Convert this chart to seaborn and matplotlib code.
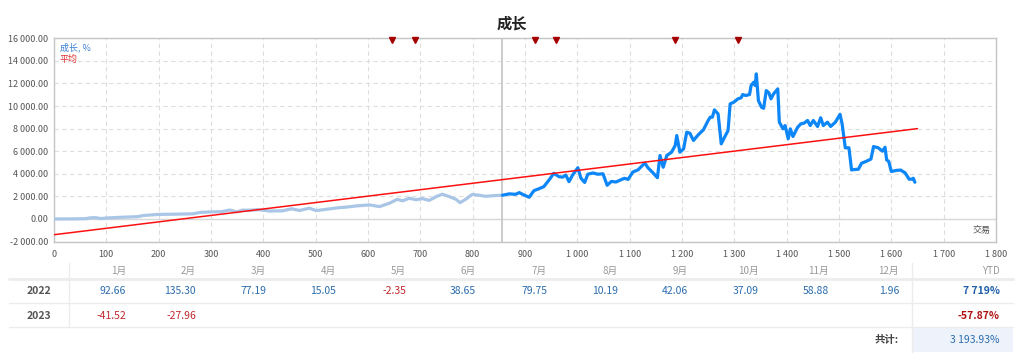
import numpy as np
import pandas as pd
import matplotlib.pyplot as plt
import seaborn as sns
from matplotlib.lines import Line2D
from matplotlib.patches import Rectangle

# 成长曲线 (交易序号, 成长 %)
trades = [0, 30, 60, 70, 80, 90, 100, 130, 160, 170, 200, 230, 265, 280, 300, 320, 336, 349, 360, 374,
          390, 412, 437, 454, 469, 488, 501, 520, 545, 560, 577, 603, 622, 641, 656, 666, 679, 692, 704, 717,
          730, 742, 755, 768, 776, 787, 799, 812, 825, 837, 857,
          870, 882, 889, 898, 908, 917, 927, 936, 946, 955, 965, 972, 978, 984, 991, 1001, 1007, 1014, 1020,
          1030, 1039, 1049, 1057, 1065, 1074, 1081, 1090, 1097, 1106, 1116, 1129, 1135, 1145, 1153, 1158, 1164,
          1171, 1180, 1187, 1190, 1196, 1203, 1209, 1215, 1222, 1231, 1241, 1250, 1254, 1258, 1262, 1269, 1275,
          1283, 1288, 1292, 1299, 1307, 1313, 1316, 1322, 1329, 1332, 1337, 1340, 1342, 1346, 1352, 1356, 1361,
          1366, 1370, 1375, 1383, 1386, 1393, 1397, 1403, 1407, 1412, 1421, 1427, 1433, 1440, 1445, 1451, 1459,
          1465, 1470, 1478, 1484, 1493, 1502, 1506, 1512, 1519, 1524, 1530, 1537, 1543, 1552, 1561, 1566, 1575,
          1583, 1588, 1591, 1595, 1600, 1610, 1618, 1622, 1626, 1634, 1639, 1642, 1645]
growth = [0, 0, 20, 100, 110, 30, 80, 150, 200, 300, 400, 420, 450, 580, 620, 640, 790, 620, 780, 770,
          820, 700, 720, 900, 750, 950, 740, 850, 1000, 1050, 1150, 1240, 1090, 1390, 1740, 1600, 1830, 1700, 1800, 1640,
          1970, 2190, 1980, 1740, 1440, 1750, 2170, 2100, 2000, 2050, 2100,
          2220, 2180, 2330, 2120, 1920, 2500, 2680, 2860, 3450, 4040, 3740, 3700, 3890, 3300, 3890, 4540, 3600, 3230, 3960,
          4070, 3960, 4000, 2980, 3320, 3270, 3420, 3600, 3500, 4150, 4350, 4950, 4530, 4060, 3650, 5620, 4580,
          5620, 5910, 6500, 7390, 5910, 6200, 7680, 7590, 6950, 7450, 7900, 8720, 9010, 9010, 9660, 9300, 6650,
          7390, 7830, 10190, 10340, 10640, 10730, 11020, 10930, 11020, 11810, 12110, 11810, 12850, 10480, 9890, 9800, 11370,
          11170, 10640, 11080, 11520, 8570, 7980, 8270, 7100, 7980, 7300, 8120, 8420, 8480, 8720, 8270, 8720, 8190,
          8960, 8270, 8570, 8190, 8570, 9270, 8400, 6300, 6300, 4340, 4380, 4400, 4930, 5100, 5300, 6410, 6300,
          6000, 6350, 5230, 5100, 4200, 4300, 4330, 4200, 4100, 3520, 3520, 3600, 3250]
split_trade = 857

# 平均 (趋势线)
trend_x = [0, 1650]
trend_y = [-1400, 8000]

# 顶部信号标记
signal_trades = [645, 689, 920, 960, 1187, 1307]

# 月度表格
months = ['1月', '2月', '3月', '4月', '5月', '6月', '7月', '8月', '9月', '10月', '11月', '12月']
years = ['2022', '2023']
returns_2022 = ['92.66', '135.30', '77.19', '15.05', '-2.35', '38.65', '79.75', '10.19', '42.06', '37.09', '58.88', '1.96']
returns_2023 = ['-41.52', '-27.96', '', '', '', '', '', '', '', '', '', '']
ytd = ['7 719%', '-57.87%']
total_label = '共计:'
total_value = '3 193.93%'

sns.set_theme(style='white')
plt.rcParams['font.family'] = ['Noto Sans CJK SC', 'DejaVu Sans']

df = pd.DataFrame({'trade': trades, 'growth': growth})
hist = df[df['trade'] <= split_trade]
live = df[df['trade'] >= split_trade]

W, H = 1024, 363
fig = plt.figure(figsize=(W / 100, H / 100), dpi=100)
ax = fig.add_axes([54 / W, 1 - 241.5 / H, (996 - 54) / W, (241.5 - 38.3) / H])

ax.set_xlim(0, 1800)
ax.set_ylim(-2000, 16000)
ax.set_xticks(range(0, 1801, 100))
ax.set_xticklabels([f"{v:,}".replace(',', ' ') for v in range(0, 1801, 100)])
ax.set_yticks(range(-2000, 16001, 2000))
ax.set_yticklabels([f"{v:,.2f}".replace(',', ' ') for v in range(-2000, 16001, 2000)])
ax.tick_params(length=0, labelsize=6.5, colors='#555555', pad=4)
ax.tick_params(axis='x', pad=6)
ax.grid(True, linestyle=(0, (4, 3)), color='#dedede', linewidth=0.8)
for s in ax.spines.values():
    s.set_color('#c4c4c4')
    s.set_linewidth(1)
ax.axhline(0, color='#d8d8d8', lw=1, zorder=1)
ax.axvline(split_trade, color='#c8c8c8', lw=1.3, zorder=1)

sns.lineplot(data=hist, x='trade', y='growth', ax=ax, color='#a9c6e6', linewidth=2.3,
             estimator=None, sort=False, zorder=3)
sns.lineplot(data=live, x='trade', y='growth', ax=ax, color='#0d86f8', linewidth=2.3,
             estimator=None, sort=False, zorder=3)
sns.lineplot(x=trend_x, y=trend_y, ax=ax, color='#ff1010', linewidth=1.1, estimator=None, zorder=4)
ax.plot(signal_trades, [15870] * len(signal_trades), linestyle='none', marker='v',
        markersize=4.8, color='#a50000', clip_on=False, zorder=5)
ax.set_xlabel('')
ax.set_ylabel('')

ax.text(0.006, 0.955, '成长, %', transform=ax.transAxes, fontsize=6.5, color='#3b7fd6', va='center')
ax.text(0.006, 0.895, '平均', transform=ax.transAxes, fontsize=6.5, color='#e03030', va='center')
ax.text(0.994, 0.03, '交易', transform=ax.transAxes, fontsize=6.5, color='#555555', ha='right', va='bottom')

fig.text(0.5, 1 - 24 / H, '成长', ha='center', va='center', fontsize=11, fontweight='bold', color='#222222')

# table
def fy(y):
    return 1 - y / H

month_right = [126, 196, 266, 336, 406, 476, 547, 618, 688, 759, 829, 899]
for m, xr in zip(months, month_right):
    fig.text(xr / W, fy(270.5), m, ha='right', va='center', fontsize=7, color='#999999')
fig.text(1000 / W, fy(270.5), 'YTD', ha='right', va='center', fontsize=7, color='#999999')

rows = [returns_2022, returns_2023]
row_y = [290.7, 315.7]
for yr, vals, yy, yv in zip(years, rows, row_y, ytd):
    fig.text(39 / W, fy(yy), yr, ha='center', va='center', fontsize=7.5, color='#555555', fontweight='bold')
    for v, xr in zip(vals, month_right):
        if v:
            c = '#c0272d' if v.startswith('-') else '#2a6cae'
            fig.text(xr / W, fy(yy), v, ha='right', va='center', fontsize=7.5, color=c)
    c = '#b01010' if yv.startswith('-') else '#1f5fa8'
    fig.text(1000 / W, fy(yy), yv, ha='right', va='center', fontsize=7.5, color=c, fontweight='bold')

fig.patches.append(Rectangle((912 / W, fy(352)), (1013 - 912) / W, 25 / H, transform=fig.transFigure,
                             facecolor='#eef3fb', edgecolor='none', zorder=0))
fig.text(899 / W, fy(340), total_label, ha='right', va='center', fontsize=7.5, color='#444444', fontweight='bold')
fig.text(1000 / W, fy(340), total_value, ha='right', va='center', fontsize=7.5, color='#2a6cae')

for yy, lw in [(279, 2.0), (303, 1.0), (327, 1.0)]:
    fig.lines.append(Line2D([9 / W, 1013 / W], [fy(yy), fy(yy)], transform=fig.transFigure,
                            color='#ececec', lw=lw))
fig.lines.append(Line2D([69 / W, 69 / W], [fy(263), fy(327)], transform=fig.transFigure, color='#ececec', lw=1))
fig.lines.append(Line2D([912 / W, 912 / W], [fy(263), fy(352)], transform=fig.transFigure, color='#ececec', lw=1))

fig.savefig('out.png', dpi=100)
